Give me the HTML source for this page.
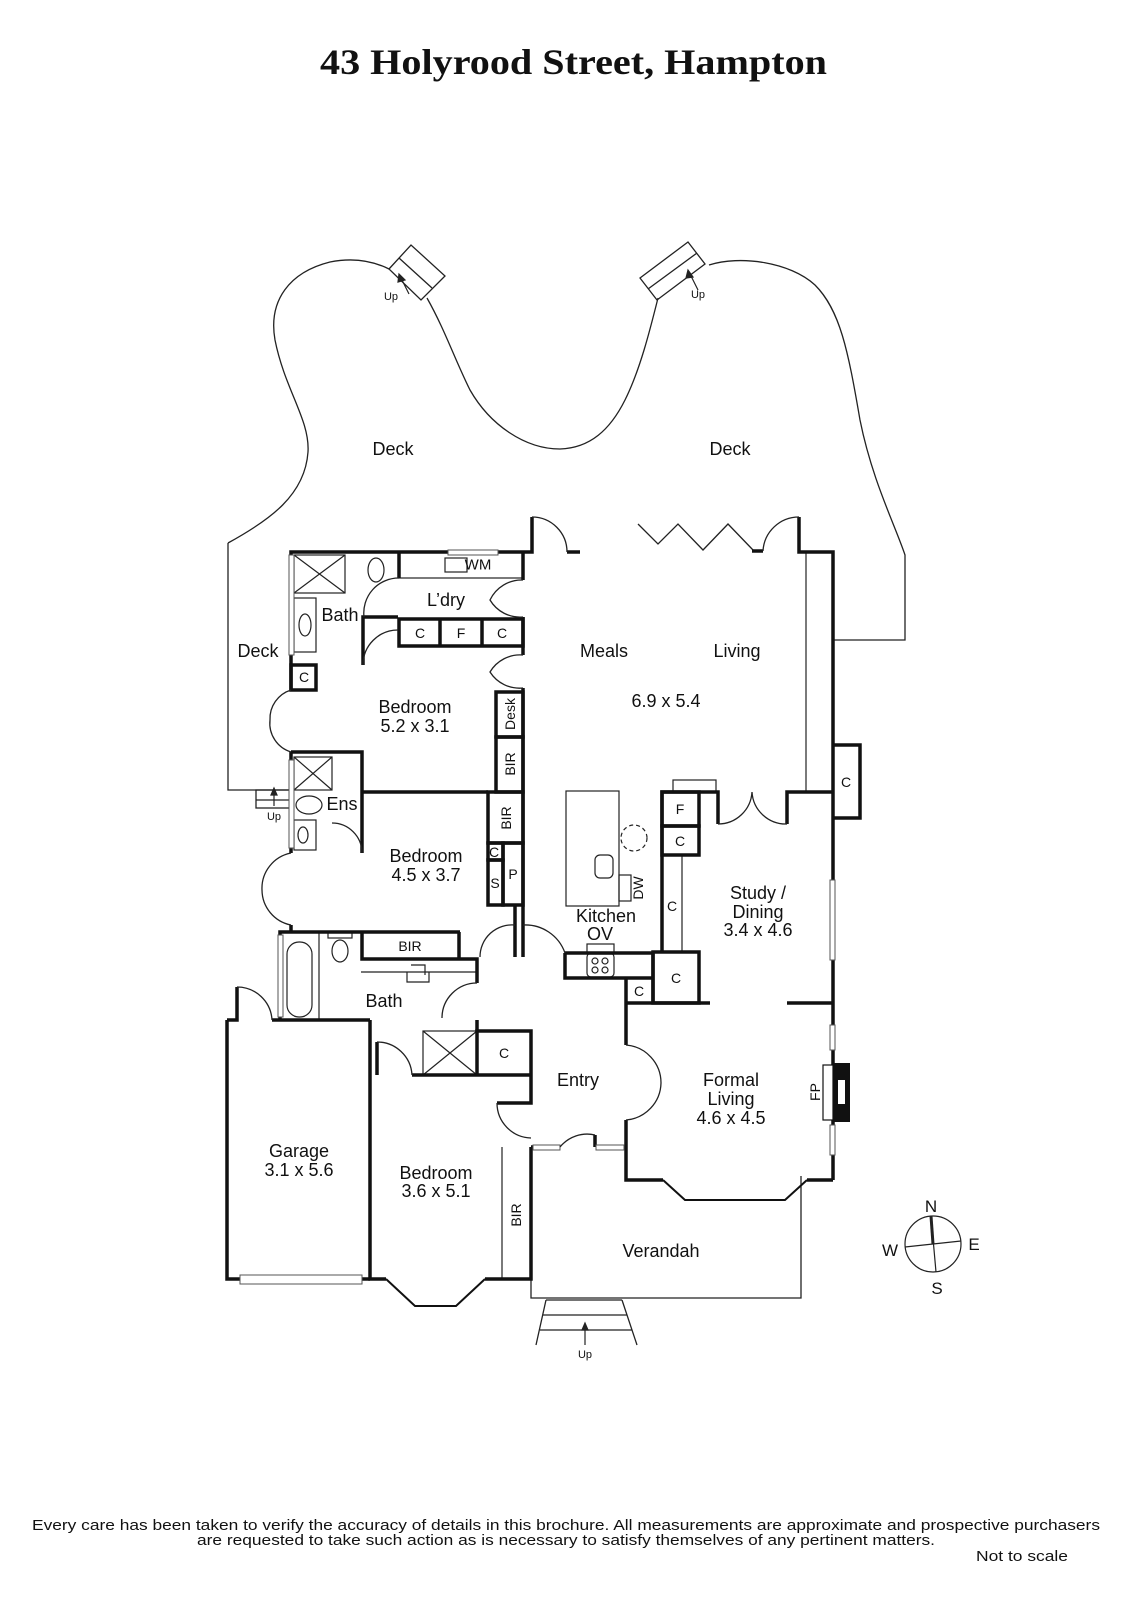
<!DOCTYPE html>
<html><head><meta charset="utf-8"><style>
html,body{margin:0;padding:0;background:#fff;}
svg{display:block;}
text{font-family:"Liberation Sans","DejaVu Sans",sans-serif;fill:#111;}
</style></head><body>
<svg width="1131" height="1600" viewBox="0 0 1131 1600" xmlns="http://www.w3.org/2000/svg">
<text x="320" y="74" textLength="507" lengthAdjust="spacingAndGlyphs" style="font-family:'Liberation Serif',serif;font-weight:bold;font-size:36px;">43 Holyrood Street, Hampton</text>

<g fill="none" stroke="#222" stroke-width="1.3">
<path d="M228,543 C270,520 305,495 308,452 C310,420 285,390 275,340 C268,300 290,272 330,262 C355,257 375,262 389,269"/>
<path d="M427,298 C445,330 455,360 470,390 C490,425 525,449 560,449 C590,448 610,430 625,400 C640,370 650,330 658,298"/>
<path d="M709,265 C740,255 790,262 815,285 C840,310 848,350 860,420 C872,480 895,525 905,555 L905,640 L833,640"/>
<polygon points="389,269 411,245 445,276 421,300"/>
<line x1="399" y1="258" x2="432" y2="288"/>
<polygon points="640,278 688,242 705,264 657,300"/>
<line x1="648" y1="289" x2="697" y2="253"/>
<path d="M228,543 V790 H291"/>
<rect x="256" y="790" width="35" height="18"/>
<line x1="256" y1="800" x2="291" y2="800"/>
<path d="M531,1280 V1298 H801 V1176"/>
<path d="M546,1300 L536,1345 M622,1300 L637,1345 M546,1300 H622 M543,1315 H627 M540,1330 H632"/>
<polyline points="638,524 658,544 678,524 703,550 728,524 753,550"/>
</g>
<g stroke="#222" stroke-width="1.2" fill="#222">
<line x1="409" y1="294" x2="401" y2="278"/><polygon points="399,274 398,282 405,280"/>
<line x1="698" y1="290" x2="690" y2="274"/><polygon points="688,270 686,278 693,277"/>
<line x1="274" y1="806" x2="274" y2="793"/><polygon points="274,788 271,795 277,795"/>
<line x1="585" y1="1345" x2="585" y2="1328"/><polygon points="585,1323 582,1330 588,1330"/>
</g>
<g style="font-size:11px">
<text x="391" y="300" text-anchor="middle">Up</text>
<text x="698" y="298" text-anchor="middle">Up</text>
<text x="274" y="820" text-anchor="middle">Up</text>
<text x="585" y="1358" text-anchor="middle">Up</text>
</g>

<g fill="none" stroke="#222" stroke-width="1.2">
<line x1="806" y1="552" x2="806" y2="792"/>
<rect x="399" y="552" width="124" height="26"/>
<rect x="445" y="558" width="22" height="14"/>
<rect x="294" y="555" width="51" height="38"/><path d="M294,555 L345,593 M345,555 L294,593"/>
<rect x="294" y="757" width="38" height="33"/><path d="M294,757 L332,790 M332,757 L294,790"/>
<rect x="294" y="598" width="22" height="54"/><ellipse cx="305" cy="625" rx="6" ry="11"/>
<ellipse cx="376" cy="570" rx="8" ry="12"/>
<ellipse cx="309" cy="805" rx="13" ry="9"/><rect x="294" y="820" width="22" height="30"/><ellipse cx="303" cy="835" rx="5" ry="8"/>
<rect x="566" y="791" width="53" height="115"/>
<rect x="595" y="855" width="18" height="23" rx="5"/>
<rect x="619" y="875" width="12" height="26"/>
<circle cx="634" cy="838" r="13" stroke-dasharray="4,3"/>
<rect x="587" y="944" width="27" height="10"/>
<rect x="587" y="953" width="27" height="24" rx="4"/>
<circle cx="595" cy="961" r="3"/><circle cx="605" cy="961" r="3"/><circle cx="595" cy="970" r="3"/><circle cx="605" cy="970" r="3"/>
<line x1="682" y1="855" x2="682" y2="952"/>
<rect x="673" y="780" width="43" height="12"/>
<rect x="287" y="942" width="25" height="75" rx="12"/>
<line x1="319" y1="932" x2="319" y2="1020"/>
<ellipse cx="340" cy="951" rx="8" ry="11"/><rect x="328" y="932" width="24" height="6"/>
<path d="M361,959 H477 M361,972 H477 M407,972 V982 H429 V972 M411,965 H425 V975"/>
<rect x="423" y="1031" width="54" height="44"/><path d="M423,1031 L477,1075 M477,1031 L423,1075"/>
<line x1="502" y1="1147" x2="502" y2="1279"/>
</g>

<g fill="none" stroke="#111" stroke-width="3.5" stroke-linejoin="miter">
<path d="M291,690 V552 H532 V517"/>
<path d="M567,552 H580"/>
<path d="M763,551 H752 M799,517 V552 H833 V1180"/>
<path d="M291,752 V853 M291,925 V932"/>
<path d="M291,752 H362 V853"/>
<path d="M362,792 H488"/>
<path d="M398,617 H363 V665 M399,552 V578"/>
<rect x="399" y="619" width="124" height="27"/>
<line x1="440" y1="619" x2="440" y2="646"/><line x1="482" y1="619" x2="482" y2="646"/>
<rect x="291" y="665" width="25" height="25"/>
<path d="M523,552 V580 M523,617 V655 M523,688 V957 M515,905 V957"/>
<rect x="496" y="692" width="27" height="45"/><rect x="496" y="737" width="27" height="55"/>
<rect x="488" y="792" width="35" height="51"/>
<rect x="488" y="843" width="15" height="17"/><rect x="488" y="860" width="15" height="45"/><rect x="503" y="843" width="20" height="62"/>
<path d="M280,1020 V932 H460 M362,932 V959 H459 V932 M459,959 H477 V983 M477,1020 V1031"/>
<path d="M227,1020 V1279 H370 M227,1020 H237 V987 M272,1020 H370"/>
<path d="M370,1020 V1075 M377,1075 V1042 M412,1075 H531 V1031 H477 V1075 M531,1075 V1103 H497"/>
<path d="M370,1075 V1279 H386 M485,1279 H531 V1147 M531,1147 H560"/>
<path d="M386,1279 L415,1306 H456 L485,1279" stroke-width="2"/>
<path d="M595,1147 V1135 M625,1147 H626 M626,1003 V1045 M626,1120 V1180 H663 M807,1180 H833"/>
<path d="M663,1180 L685,1200 H785 L807,1180" stroke-width="2"/>
<path d="M565,953 H653 V1003 M565,953 V978 H653 M626,978 V1003"/>
<rect x="653" y="952" width="46" height="51"/>
<path d="M626,1003 H710 M787,1003 H833"/>
<path d="M662,952 V792 H718 V824 M787,824 V792 H833"/>
<rect x="662" y="792" width="37" height="34"/><rect x="662" y="826" width="37" height="29"/>
<path d="M833,745 H860 V818 H833"/>
</g>
<rect x="823" y="1065" width="10" height="55" fill="#fff" stroke="#111" stroke-width="1.2"/>
<rect x="833" y="1063" width="17" height="59" fill="#111"/>
<rect x="838" y="1080" width="7" height="24" fill="#fff"/>
<g fill="#fff" stroke="#555" stroke-width="1">
<rect x="830" y="880" width="5" height="80"/><rect x="830" y="1025" width="5" height="25"/><rect x="830" y="1125" width="5" height="30"/>
<rect x="289" y="555" width="5" height="100"/><rect x="289" y="760" width="5" height="88"/><rect x="278" y="935" width="5" height="82"/>
<rect x="240" y="1275" width="122" height="9"/>
<rect x="448" y="550" width="50" height="5"/>
<rect x="533" y="1145" width="27" height="5"/><rect x="596" y="1145" width="28" height="5"/>
</g>
<g fill="none" stroke="#222" stroke-width="1.3">
<path d="M532,517 A35,35 0 0 1 567,552"/>
<path d="M799,517 A36,36 0 0 0 763,551"/>
<path d="M291,690 A30,30 0 0 0 270,720 A30,30 0 0 0 291,752"/>
<path d="M291,853 A36,36 0 0 0 262,890 A36,36 0 0 0 291,925"/>
<path d="M523,580 A35,35 0 0 0 490,600 A35,35 0 0 0 523,617"/>
<path d="M523,655 A35,35 0 0 0 490,672 A35,35 0 0 0 523,688"/>
<path d="M399,578 A35,35 0 0 0 364,617"/>
<path d="M363,665 A35,35 0 0 1 398,630"/>
<path d="M362,853 A30,30 0 0 0 332,823"/>
<path d="M237,987 A35,35 0 0 1 272,1020"/>
<path d="M377,1042 A35,35 0 0 1 412,1075"/>
<path d="M497,1103 A35,35 0 0 0 531,1138"/>
<path d="M477,983 A35,35 0 0 0 442,1018"/>
<path d="M515,925 A32,32 0 0 0 480,957"/>
<path d="M523,925 A42,42 0 0 1 565,953"/>
<path d="M595,1135 A35,35 0 0 0 560,1147"/>
<path d="M626,1045 A38,38 0 0 1 661,1083 A38,38 0 0 1 626,1120"/>
<path d="M718,824 A34,34 0 0 0 752,792 A34,34 0 0 0 787,824"/>
</g>

<g fill="none" stroke="#222" stroke-width="1.2">
<circle cx="933" cy="1244" r="28"/>
<line x1="905" y1="1247" x2="961" y2="1241"/>
<line x1="931" y1="1216" x2="936" y2="1272"/>
<line x1="931" y1="1216" x2="933" y2="1244" stroke-width="3"/>
</g>
<g style="font-size:17px" text-anchor="middle">
<text x="931" y="1212">N</text><text x="974" y="1250">E</text><text x="937" y="1294">S</text><text x="890" y="1256">W</text>
</g>

<g style="font-size:18px" text-anchor="middle" dominant-baseline="central">
<text x="393" y="449">Deck</text><text x="730" y="449">Deck</text><text x="258" y="651">Deck</text>
<text x="340" y="615">Bath</text><text x="446" y="600">L’dry</text>
<text x="604" y="651">Meals</text><text x="737" y="651">Living</text><text x="666" y="701">6.9 x 5.4</text>
<text x="415" y="707">Bedroom</text><text x="415" y="726">5.2 x 3.1</text>
<text x="342" y="804">Ens</text>
<text x="426" y="856">Bedroom</text><text x="426" y="875">4.5 x 3.7</text>
<text x="606" y="916">Kitchen</text><text x="600" y="934">OV</text>
<text x="758" y="893">Study /</text><text x="758" y="912">Dining</text><text x="758" y="930">3.4 x 4.6</text>
<text x="384" y="1001">Bath</text><text x="578" y="1080">Entry</text>
<text x="731" y="1080">Formal</text><text x="731" y="1099">Living</text><text x="731" y="1118">4.6 x 4.5</text>
<text x="299" y="1151">Garage</text><text x="299" y="1170">3.1 x 5.6</text>
<text x="436" y="1173">Bedroom</text><text x="436" y="1191">3.6 x 5.1</text>
<text x="661" y="1251">Verandah</text>
</g>
<g style="font-size:14px" text-anchor="middle" dominant-baseline="central">
<text x="420" y="633">C</text><text x="461" y="633">F</text><text x="502" y="633">C</text>
<text x="478" y="565" style="font-size:15px">WM</text>
<text x="304" y="677">C</text>
<text x="494" y="852">C</text><text x="495" y="883">S</text><text x="513" y="874">P</text>
<text x="680" y="809">F</text><text x="680" y="841">C</text><text x="672" y="906">C</text>
<text x="676" y="978">C</text><text x="639" y="991">C</text><text x="846" y="782">C</text>
<text x="504" y="1053">C</text><text x="410" y="946">BIR</text>
<text transform="translate(510,714) rotate(-90)">Desk</text>
<text transform="translate(510,764) rotate(-90)">BIR</text>
<text transform="translate(506,818) rotate(-90)">BIR</text>
<text transform="translate(516,1215) rotate(-90)">BIR</text>
<text transform="translate(638,888) rotate(-90)">DW</text>
<text transform="translate(815,1092) rotate(-90)">FP</text>
</g>

<g style="font-size:15px" text-anchor="middle">
<text x="566" y="1530" textLength="1068" lengthAdjust="spacingAndGlyphs">Every care has been taken to verify the accuracy of details in this brochure.  All measurements are approximate and prospective purchasers</text>
<text x="566" y="1545" textLength="738" lengthAdjust="spacingAndGlyphs">are requested to take such action as is necessary to satisfy themselves of any pertinent matters.</text>
<text x="1022" y="1561" textLength="92" lengthAdjust="spacingAndGlyphs">Not to scale</text>
</g>
</svg>
</body></html>
